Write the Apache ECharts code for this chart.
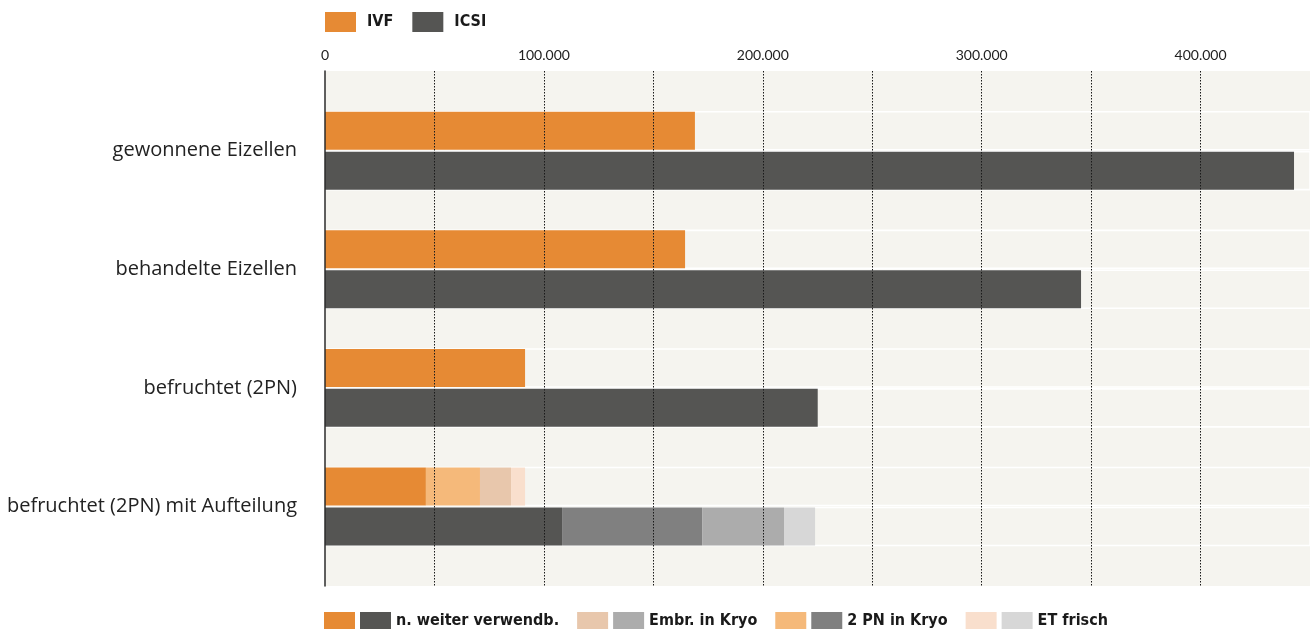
<!DOCTYPE html>
<html lang="de">
<head>
<meta charset="utf-8">
<title>Eizellen IVF / ICSI</title>
<script src="https://cdn.jsdelivr.net/npm/echarts@6/dist/echarts.min.js"></script>
<style>
  html, body { margin: 0; padding: 0; background: #ffffff; }
  #chart { width: 1313px; height: 631px; }
</style>
</head>
<body>
<div id="chart"></div>
<script>
// Kategorien (von oben nach unten)
const categories = [
  'gewonnene Eizellen',
  'behandelte Eizellen',
  'befruchtet (2PN)',
  'befruchtet (2PN) mit Aufteilung'
];

// Gesamtwerte (letzte Kategorie wird aufgeteilt dargestellt)
const ivfTotal  = [169000, 164500, 91400, null];
const icsiTotal = [442700, 345400, 225100, null];

// Aufteilung der befruchteten Eizellen (nur letzte Kategorie)
const ivfNichtVerwendbar  = [null, null, null, 46100];
const ivf2PNKryo          = [null, null, null, 24700];
const ivfEmbrKryo         = [null, null, null, 14200];
const ivfETFrisch         = [null, null, null, 6400];

const icsiNichtVerwendbar = [null, null, null, 108300];
const icsi2PNKryo         = [null, null, null, 64000];
const icsiEmbrKryo        = [null, null, null, 37400];
const icsiETFrisch        = [null, null, null, 14200];

// Achse
const axisMax = 450000;
const axisStep = 50000;
const labelStep = 100000;

const C = {
  bg: '#f5f4ef',
  ivf: '#e68a34',
  icsi: '#555553',
  ivf2PN: '#f5b97a',
  ivfEmbr: '#e8c7ac',
  ivfET: '#f9dfcd',
  icsi2PN: '#808080',
  icsiEmbr: '#acacac',
  icsiET: '#d7d7d7'
};

const labelFont = '"Open Sans", "Noto Sans", Lato, sans-serif';
const tickFont = 'Lato, "Open Sans", sans-serif';
const boldFont = '"DejaVu Sans Condensed", "Liberation Sans Narrow", "Liberation Sans", sans-serif';

function fmt(v) {
  return String(v).replace(/\B(?=(\d{3})+(?!\d))/g, '.');
}

const chart = echarts.init(document.getElementById('chart'), null, { renderer: 'canvas' });

const BAR_W = 38;
const BAR_GAP = '5%';

function bar(name, data, stack, color, withBg) {
  const s = {
    name: name,
    type: 'bar',
    xAxisIndex: 1,
    yAxisIndex: 1,
    stack: stack,
    data: data,
    barWidth: BAR_W,
    barGap: BAR_GAP,
    itemStyle: { color: color },
    emphasis: { disabled: true },
    z: 2
  };
  if (withBg) {
    // weiße Trennlinien über die ganze Breite des Balkenstreifens
    s.showBackground = true;
    s.backgroundStyle = { color: 'rgba(0,0,0,0)', borderColor: '#ffffff', borderWidth: 1.6 };
  }
  return s;
}

const grayFor = {
  'n. weiter verwendb.': 'g0',
  'Embr. in Kryo': 'g1',
  '2 PN in Kryo': 'g2',
  'ET frisch': 'g3'
};

const legendText = {
  fontFamily: boldFont,
  fontWeight: 'bold',
  fontSize: 16,
  color: '#1a1a1a'
};

const option = {
  animation: false,
  backgroundColor: '#ffffff',
  grid: [
    // Hintergrund, Raster und linke Achsenlinie
    { left: 325, right: 3, top: 71, bottom: 45, show: true, backgroundColor: C.bg, borderWidth: 0, containLabel: false },
    // Balken
    { left: 325, right: 3, top: 91.4, bottom: 65.2, containLabel: false }
  ],
  xAxis: [
    {
      gridIndex: 0,
      type: 'value',
      position: 'top',
      min: 0,
      max: axisMax,
      interval: axisStep,
      z: 10,
      axisLine: { show: false },
      axisTick: { show: false },
      axisLabel: {
        margin: 9,
        color: '#222',
        fontSize: 14,
        fontFamily: tickFont,
        formatter: v => (v % labelStep === 0 ? fmt(v) : '')
      },
      splitLine: {
        show: true,
        showMinLine: false,
        showMaxLine: false,
        lineStyle: { color: '#1a1a1a', width: 1, type: [1.5, 1.5] }
      }
    },
    {
      gridIndex: 1,
      type: 'value',
      min: 0,
      max: axisMax,
      show: false
    }
  ],
  yAxis: [
    {
      gridIndex: 0,
      type: 'value',
      min: 0,
      max: 1,
      z: 10,
      axisLine: { show: true, lineStyle: { color: '#2b2b2b', width: 1.5 } },
      axisTick: { show: false },
      axisLabel: { show: false },
      splitLine: { show: false }
    },
    {
      gridIndex: 1,
      type: 'category',
      inverse: true,
      data: categories,
      axisLine: { show: false },
      axisTick: { show: false },
      axisLabel: {
        margin: 28,
        color: '#222',
        fontSize: 20,
        fontFamily: labelFont
      },
      splitLine: { show: false }
    }
  ],
  legend: [
    {
      data: ['IVF', 'ICSI'],
      left: 325,
      top: 12,
      padding: 0,
      itemWidth: 31,
      itemHeight: 20,
      itemGap: 19,
      icon: 'rect',
      selectedMode: false,
      textStyle: Object.assign({}, legendText, { padding: [0, 0, 0, 6] })
    },
    {
      data: ['n. weiter verwendb.', 'Embr. in Kryo', '2 PN in Kryo', 'ET frisch'],
      left: 324,
      top: 612,
      padding: 0,
      itemWidth: 31,
      itemHeight: 17,
      itemGap: 18,
      icon: 'rect',
      selectedMode: false,
      formatter: name => '{' + grayFor[name] + '|}{t|' + name + '}',
      textStyle: Object.assign({}, legendText, {
        rich: {
          g0: { width: 31, height: 17, backgroundColor: C.icsi },
          g1: { width: 31, height: 17, backgroundColor: C.icsiEmbr },
          g2: { width: 31, height: 17, backgroundColor: C.icsi2PN },
          g3: { width: 31, height: 17, backgroundColor: C.icsiET },
          t: Object.assign({}, legendText, { padding: [0, 0, 0, 5] })
        }
      })
    }
  ],
  series: [
    bar('IVF', ivfTotal, 'ivf', C.ivf, true),
    bar('ICSI', icsiTotal, 'icsi', C.icsi, true),
    bar('n. weiter verwendb.', ivfNichtVerwendbar, 'ivf', C.ivf, false),
    bar('2 PN in Kryo', ivf2PNKryo, 'ivf', C.ivf2PN, false),
    bar('Embr. in Kryo', ivfEmbrKryo, 'ivf', C.ivfEmbr, false),
    bar('ET frisch', ivfETFrisch, 'ivf', C.ivfET, false),
    bar('n. weiter verwendb.', icsiNichtVerwendbar, 'icsi', C.icsi, false),
    bar('2 PN in Kryo', icsi2PNKryo, 'icsi', C.icsi2PN, false),
    bar('Embr. in Kryo', icsiEmbrKryo, 'icsi', C.icsiEmbr, false),
    bar('ET frisch', icsiETFrisch, 'icsi', C.icsiET, false)
  ]
};

chart.setOption(option);
</script>
</body>
</html>
